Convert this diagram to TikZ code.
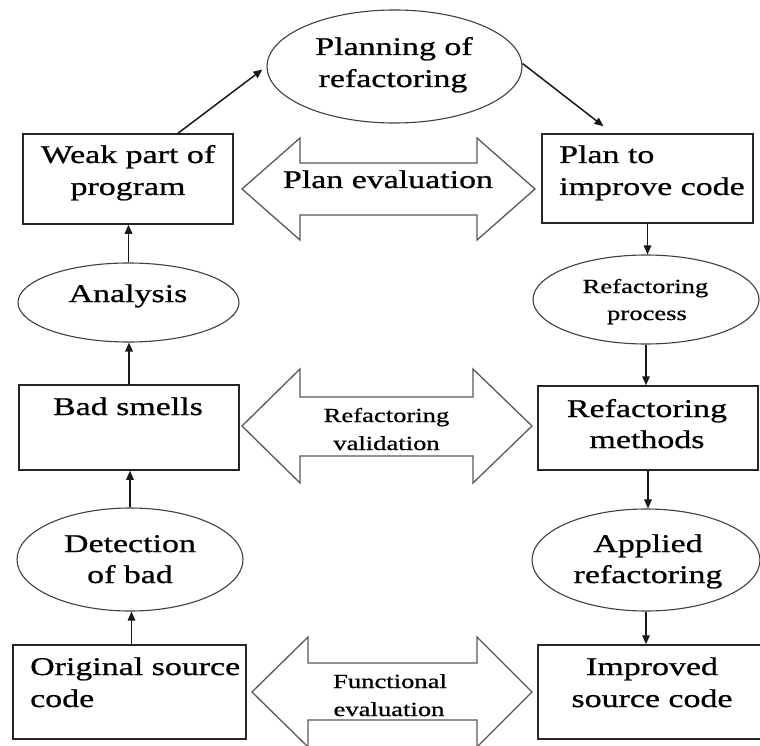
\documentclass[tikz,border=0pt]{standalone}
\usepackage{fontspec}
\setmainfont[FakeStretch=1.33,FakeBold=0.8]{Liberation Serif}
\usetikzlibrary{shapes.geometric,arrows.meta}
\begin{document}
\begin{tikzpicture}[x=1pt,y=-1pt,
  box/.style={draw=black!85,line width=1.5pt,rectangle,inner sep=0pt},
  ell/.style={draw=black!75,line width=1.1pt,ellipse,inner sep=0pt},
  darr/.style={draw=black!65,line width=1.3pt,fill=white,line join=miter},
  conn/.style={-{Triangle[length=9pt,width=7.5pt]},line width=1.5pt,draw=black!90},
  big/.style={inner sep=0pt,anchor=base,font=\fontsize{25.5}{32}\selectfont,text=black},
  bigl/.style={big,anchor=base west},
  small/.style={inner sep=0pt,anchor=base,font=\fontsize{20}{27}\selectfont,text=black}]
\useasboundingbox (0,0) rectangle (760,746);
\fill[white] (0,0) rectangle (760,746);

% double arrows
\draw[darr] (242,189) -- (300,138) -- (300,163) -- (477,163) -- (477,138) -- (535,189)
  -- (477,240) -- (477,215) -- (300,215) -- (300,240) -- cycle;
\draw[darr] (242,426) -- (300,369) -- (300,397) -- (473,397) -- (473,369) -- (532,426)
  -- (473,483) -- (473,456) -- (300,456) -- (300,483) -- cycle;
\draw[darr] (252,692) -- (308,637) -- (308,663) -- (477,663) -- (477,637) -- (532,692)
  -- (477,747) -- (477,720) -- (308,720) -- (308,747) -- cycle;

% boxes
\node[box,minimum width=210pt,minimum height=90pt] (weak) at (128,179) {};
\node[box,minimum width=211pt,minimum height=89pt] (plan) at (647.5,178.5) {};
\node[box,minimum width=220pt,minimum height=85pt] (bad) at (129,427.5) {};
\node[box,minimum width=220pt,minimum height=84pt] (meth) at (648,428) {};
\node[box,minimum width=233pt,minimum height=94pt] (orig) at (129.5,692) {};
\node[box,minimum width=224pt,minimum height=94pt] (impr) at (650,692) {};

% ellipses
\node[ell,minimum width=255pt,minimum height=113pt] (plng) at (394.5,66.5) {};
\node[ell,minimum width=221pt,minimum height=79pt] (anal) at (128.5,302.5) {};
\node[ell,minimum width=226pt,minimum height=89pt] (proc) at (646,299.5) {};
\node[ell,minimum width=226pt,minimum height=103pt] (detc) at (130,559.5) {};
\node[ell,minimum width=228pt,minimum height=102pt] (appl) at (646,560) {};

% texts
\node[big] (t1a) at (128,163) {Weak part of};
\node[big] (t1b) at (128,195) {program};
\node[big] (t2a) at (394,55) {Planning of};
\node[big] (t2b) at (393,87) {refactoring};
\node[big] (t3) at (388,188) {Plan evaluation};
\node[bigl] (t4a) at (559,163) {Plan to};
\node[bigl] (t4b) at (559,195) {improve code};
\node[big] (t5) at (128,302) {Analysis};
\node[big] (t6) at (128,415) {Bad smells};
\node[big] (t7a) at (647,417) {Refactoring};
\node[big] (t7b) at (647,448) {methods};
\node[big] (t8a) at (130,552) {Detection};
\node[big] (t8b) at (130,583) {of bad};
\node[big] (t9a) at (648,552) {Applied};
\node[big] (t9b) at (648,583) {refactoring};
\node[bigl] (t10a) at (30,675) {Original source};
\node[bigl] (t10b) at (30,707) {code};
\node[big] (t11a) at (652,675) {Improved};
\node[big] (t11b) at (652,707) {source code};
\node[small] (t12a) at (645.5,293) {Refactoring};
\node[small] (t12b) at (647,320) {process};
\node[small] (t13a) at (386.5,422) {Refactoring};
\node[small] (t13b) at (386.5,450) {validation};
\node[small] (t14a) at (390,688) {Functional};
\node[small] (t14b) at (389,716) {evaluation};

% connectors
\draw[conn] ([xshift=50pt]weak.north) -- ([xshift=-4pt,yshift=-3pt]plng.west);
\draw[conn] ([yshift=3pt]plng.east) -- ([xshift=-44pt,yshift=7pt]plan.north);
\draw[conn] (plan.south) -- (plan.south |- proc.north);
\draw[conn] (proc.south) -- (proc.south |- meth.north);
\draw[conn] (meth.south) -- (meth.south |- appl.north);
\draw[conn] (appl.south) -- (appl.south |- impr.north);
\draw[conn] ([xshift=2pt]orig.north) -- ([xshift=2pt]orig.north |- detc.south);
\draw[conn] (detc.north) -- (detc.north |- bad.south);
\draw[conn] (bad.north) -- (bad.north |- anal.south);
\draw[conn] (anal.north) -- (anal.north |- weak.south);
\end{tikzpicture}
\end{document}
